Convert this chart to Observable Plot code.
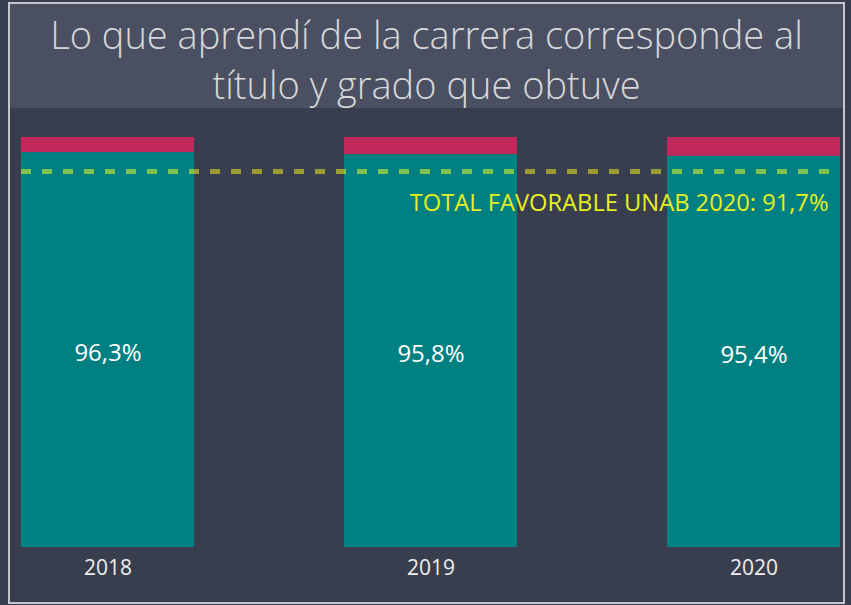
<!DOCTYPE html>
<html>
<head>
<meta charset="utf-8">
<script src="https://cdn.jsdelivr.net/npm/d3@7"></script>
<script src="https://cdn.jsdelivr.net/npm/@observablehq/plot@0.6"></script>
<style>
  html, body { margin: 0; padding: 0; background: #393e4f; }
  #wrap { position: relative; width: 851px; height: 605px; background: #393e4f; overflow: hidden; font-family: "Open Sans", "Noto Sans", sans-serif; }
  #frame { position: absolute; left: 8px; top: 2px; width: 837px; height: 602px; box-sizing: border-box; border: 2px solid #c3c6cc; }
  #title { position: absolute; left: 10px; top: 4px; width: 833px; height: 104px; background: #4a5061; color: #d6d7d9; font-size: 38px; font-weight: 300; line-height: 50px; text-align: center; padding-top: 5px; box-sizing: border-box; }
  #chart { position: absolute; left: 0; top: 108px; }
</style>
</head>
<body>
<div id="wrap">
  <div id="frame"></div>
  <div id="title"></div>
  <div id="chart"></div>
</div>
<script>
const titleLines = ["Lo que aprendí de la carrera corresponde al", "título y grado que obtuve"];
const years = ["2018", "2019", "2020"];
const favorable = [96.3, 95.8, 95.4];
const barLabels = ["96,3%", "95,8%", "95,4%"];
const benchmark = 91.7;
const benchmarkLabel = "TOTAL FAVORABLE UNAB 2020: 91,7%";

const teal = "#008080", crimson = "#c2285c", green = "#7cc352", olive = "#9b9b33", yellow = "#e6f01e";

document.getElementById("title").innerHTML = titleLines.join("<br>");

const data = years.map((y, i) => ({year: y, fav: favorable[i], label: barLabels[i]}));

const svg = Plot.plot({
  width: 851,
  height: 497,
  marginTop: 29,
  marginBottom: 58,
  marginLeft: 21,
  marginRight: 11,
  style: {background: "transparent", fontFamily: "'Open Sans', 'Noto Sans', sans-serif", fontSize: "21px", color: "#eeeeee"},
  x: {domain: years, paddingInner: 0.4644, paddingOuter: 0, round: false, label: null, tickSize: 0, tickPadding: 13},
  y: {domain: [0, 100], axis: null},
  marks: [
    Plot.barY(data, {x: "year", y1: "fav", y2: () => 100, fill: crimson}),
    Plot.barY(data, {x: "year", y1: () => 0, y2: "fav", fill: teal}),
    Plot.ruleY([benchmark], {stroke: olive, strokeWidth: 5, strokeDasharray: "10,11"}),
    Plot.ruleY([benchmark], {stroke: green, strokeWidth: 5, strokeDasharray: "10,11"}),
    Plot.text(data, {x: "year", y: d => d.fav / 2, text: "label", fill: "#ffffff", fontSize: 24, dy: 3}),
    Plot.text([benchmark], {y: d => d, text: () => benchmarkLabel, frameAnchor: "right", textAnchor: "end", dx: -12, dy: 32, fill: yellow, fontSize: 23.7})
  ]
});

// clip the green rule to the teal bars (using the rendered bar rects)
const ns = "http://www.w3.org/2000/svg";
const tealG = svg.querySelector('g[fill="' + teal + '"]');
const greenG = svg.querySelector('g[stroke="' + green + '"]');
if (tealG && greenG) {
  const defs = document.createElementNS(ns, "defs");
  const cp = document.createElementNS(ns, "clipPath");
  cp.setAttribute("id", "barclip");
  cp.setAttribute("clipPathUnits", "userSpaceOnUse");
  const gt = tealG.getAttribute("transform") || "";
  tealG.querySelectorAll("rect").forEach(r => {
    const c = document.createElementNS(ns, "rect");
    ["x", "y", "width", "height"].forEach(a => { if (r.hasAttribute(a)) c.setAttribute(a, r.getAttribute(a)); });
    const t = (gt + " " + (r.getAttribute("transform") || "")).trim();
    if (t) c.setAttribute("transform", t);
    cp.appendChild(c);
  });
  defs.appendChild(cp);
  svg.insertBefore(defs, svg.firstChild);
  const wrapper = document.createElementNS(ns, "g");
  wrapper.setAttribute("clip-path", "url(#barclip)");
  greenG.parentNode.insertBefore(wrapper, greenG);
  wrapper.appendChild(greenG);
}

document.getElementById("chart").appendChild(svg);
</script>
</body>
</html>
